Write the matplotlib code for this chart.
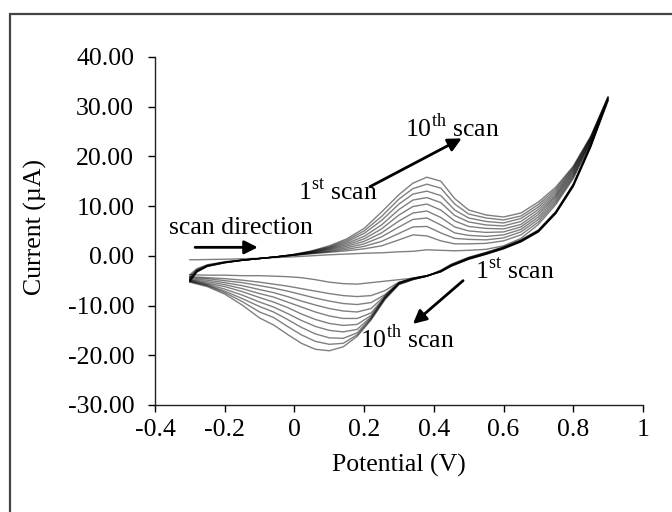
import matplotlib
matplotlib.use("Agg")
import matplotlib.pyplot as plt
from matplotlib.patches import Rectangle
import numpy as np

plt.rcParams['font.family'] = ['Liberation Serif', 'DejaVu Serif']
plt.rcParams['mathtext.fontset'] = 'custom'
plt.rcParams['mathtext.rm'] = 'Liberation Serif'
plt.rcParams['axes.unicode_minus'] = False

# potential grids (V) for the anodic (forward) and cathodic (reverse) sweeps
pot_fwd = [-0.3, -0.28, -0.25, -0.2, -0.15, -0.1, -0.05, 0.0, 0.05, 0.1, 0.15, 0.2, 0.25, 0.3,
           0.34, 0.38, 0.42, 0.46, 0.5, 0.55, 0.6, 0.65, 0.7, 0.75, 0.8, 0.85, 0.9]
pot_rev = [0.9, 0.85, 0.8, 0.75, 0.7, 0.65, 0.6, 0.55, 0.5, 0.45, 0.42, 0.38, 0.34, 0.3,
           0.26, 0.22, 0.18, 0.14, 0.1, 0.06, 0.02, -0.02, -0.06, -0.1, -0.15, -0.2, -0.25, -0.3]

# current (uA), scans 1..10
cur_fwd = [
    [-0.8, -0.8, -0.75, -0.7, -0.6, -0.5, -0.35, -0.2, 0.0, 0.2, 0.35, 0.5, 0.6, 0.8, 0.9, 1.2, 1.1, 1.0, 1.1, 1.3, 2.0, 3.5, 6.3, 10.3, 15.5, 22.5, 31.2],
    [-3.8, -2.6, -1.8, -1.2, -0.85, -0.55, -0.2, 0.1, 0.4, 0.7, 1.0, 1.4, 2.0, 3.2, 4.2, 4.0, 3.0, 2.4, 2.4, 2.5, 3.0, 4.2, 6.8, 10.7, 15.8, 22.8, 31.3],
    [-4.2, -2.8, -1.9, -1.25, -0.85, -0.55, -0.2, 0.12, 0.5, 0.85, 1.3, 1.9, 2.9, 4.5, 5.8, 5.9, 4.6, 3.5, 3.3, 3.2, 3.6, 4.8, 7.3, 11.1, 16.1, 23.0, 31.4],
    [-4.4, -2.9, -1.95, -1.3, -0.9, -0.55, -0.2, 0.15, 0.55, 1.0, 1.6, 2.4, 3.8, 5.8, 7.3, 7.6, 6.2, 4.6, 4.1, 3.9, 4.2, 5.3, 7.8, 11.5, 16.4, 23.1, 31.5],
    [-4.6, -3.0, -2.0, -1.3, -0.9, -0.55, -0.2, 0.17, 0.62, 1.2, 1.9, 2.9, 4.6, 7.0, 8.6, 9.0, 7.7, 5.8, 5.0, 4.7, 4.8, 5.8, 8.3, 11.9, 16.7, 23.3, 31.6],
    [-4.8, -3.1, -2.05, -1.35, -0.9, -0.55, -0.2, 0.2, 0.7, 1.35, 2.2, 3.4, 5.4, 8.2, 9.9, 10.4, 9.2, 7.0, 5.9, 5.5, 5.4, 6.3, 8.8, 12.2, 17.0, 23.4, 31.7],
    [-4.9, -3.1, -2.05, -1.35, -0.9, -0.55, -0.2, 0.22, 0.78, 1.5, 2.5, 3.9, 6.2, 9.3, 11.2, 11.7, 10.7, 8.1, 6.8, 6.2, 6.0, 6.9, 9.3, 12.6, 17.3, 23.6, 31.8],
    [-5.0, -3.2, -2.1, -1.4, -0.9, -0.55, -0.2, 0.25, 0.85, 1.65, 2.8, 4.5, 7.1, 10.4, 12.4, 13.0, 12.1, 9.2, 7.6, 6.9, 6.6, 7.5, 9.8, 13.0, 17.5, 23.7, 31.9],
    [-5.1, -3.2, -2.1, -1.4, -0.9, -0.55, -0.2, 0.28, 0.92, 1.8, 3.1, 5.0, 7.9, 11.4, 13.5, 14.4, 13.6, 10.4, 8.4, 7.6, 7.2, 8.0, 10.3, 13.4, 17.8, 23.9, 31.9],
    [-5.2, -3.3, -2.15, -1.4, -0.9, -0.55, -0.2, 0.3, 1.0, 2.0, 3.4, 5.5, 8.8, 12.3, 14.6, 15.8, 15.0, 11.5, 9.2, 8.2, 7.8, 8.6, 10.8, 13.8, 18.0, 24.0, 32.0],
]
cur_rev = [
    [31.2, 21.8, 13.9, 8.5, 4.8, 2.8, 1.4, 0.3, -0.7, -2.1, -3.2, -4.0, -4.5, -4.8, -5.1, -5.4, -5.7, -5.6, -5.3, -4.8, -4.4, -4.2, -4.1, -4.0, -4.0, -3.9, -3.9, -3.8],
    [31.3, 21.9, 14.0, 8.5, 4.8, 2.8, 1.4, 0.3, -0.7, -2.1, -3.2, -4.0, -4.5, -5.3, -7.0, -8.0, -8.2, -8.0, -7.6, -7.1, -6.6, -6.1, -5.7, -5.3, -4.9, -4.6, -4.4, -4.2],
    [31.4, 22.0, 14.0, 8.6, 4.9, 2.9, 1.5, 0.4, -0.6, -2.0, -3.2, -4.0, -4.5, -5.4, -7.8, -9.4, -9.8, -9.6, -9.1, -8.5, -7.8, -7.1, -6.5, -6.0, -5.4, -5.0, -4.6, -4.4],
    [31.5, 22.0, 14.1, 8.6, 4.9, 2.9, 1.5, 0.4, -0.6, -2.0, -3.2, -4.0, -4.6, -5.4, -8.0, -10.6, -11.3, -11.1, -10.6, -9.9, -9.1, -8.2, -7.4, -6.8, -6.0, -5.4, -4.9, -4.6],
    [31.6, 22.1, 14.1, 8.6, 4.9, 2.9, 1.5, 0.4, -0.6, -2.0, -3.2, -4.1, -4.6, -5.5, -8.2, -11.5, -12.6, -12.6, -12.1, -11.3, -10.3, -9.3, -8.3, -7.6, -6.6, -5.8, -5.2, -4.8],
    [31.7, 22.1, 14.2, 8.7, 5.0, 3.0, 1.6, 0.5, -0.5, -1.9, -3.1, -4.1, -4.6, -5.5, -8.3, -12.0, -13.8, -14.0, -13.6, -12.8, -11.7, -10.4, -9.3, -8.4, -7.2, -6.2, -5.5, -4.9],
    [31.8, 22.2, 14.2, 8.7, 5.0, 3.0, 1.6, 0.5, -0.5, -1.9, -3.1, -4.1, -4.7, -5.6, -8.4, -12.3, -14.8, -15.3, -15.0, -14.2, -13.0, -11.6, -10.3, -9.3, -7.9, -6.7, -5.7, -5.0],
    [31.9, 22.2, 14.3, 8.8, 5.1, 3.1, 1.7, 0.6, -0.4, -1.8, -3.0, -4.1, -4.7, -5.6, -8.5, -12.5, -15.5, -16.6, -16.5, -15.7, -14.4, -12.8, -11.3, -10.2, -8.6, -7.1, -5.9, -5.1],
    [31.9, 22.3, 14.3, 8.8, 5.1, 3.1, 1.7, 0.6, -0.4, -1.8, -3.0, -4.1, -4.8, -5.7, -8.6, -12.7, -15.9, -17.6, -17.8, -17.2, -15.9, -14.2, -12.4, -11.3, -9.2, -7.4, -6.0, -5.2],
    [32.0, 22.3, 14.4, 8.9, 5.2, 3.2, 1.8, 0.7, -0.3, -1.7, -2.9, -4.1, -4.8, -5.8, -8.8, -12.9, -16.2, -18.3, -19.1, -18.8, -17.6, -15.8, -13.9, -12.5, -9.9, -7.7, -6.2, -5.3],
]

xticks = [-0.4, -0.2, 0, 0.2, 0.4, 0.6, 0.8, 1]
xticklabels = ['-0.4', '-0.2', '0', '0.2', '0.4', '0.6', '0.8', '1']
yticks = [-30, -20, -10, 0, 10, 20, 30, 40]

fs = 18.5

fig = plt.figure(figsize=(6.72, 5.12), dpi=100)
ax = fig.add_axes([0.2307, 0.209, 0.726, 0.680])

for f, r in zip(cur_fwd, cur_rev):
    x = np.concatenate([pot_fwd, pot_rev])
    y = np.concatenate([f, r])
    ax.plot(x, y, color='black', alpha=0.5, lw=1.0)

ax.set_xlim(-0.4, 1)
ax.set_ylim(-30, 40)
ax.set_xticks(xticks)
ax.set_xticklabels(xticklabels)
ax.set_yticks(yticks)
ax.set_yticklabels(['%.2f' % v for v in yticks])
ax.tick_params(direction='out', length=5, width=1, labelsize=fs, colors='black')
ax.tick_params(axis='x', pad=5)
ax.tick_params(axis='y', pad=10)
for s in ['top', 'right']:
    ax.spines[s].set_visible(False)
for s in ['left', 'bottom']:
    ax.spines[s].set_linewidth(1)
    ax.spines[s].set_color('#222222')

ax.set_xlabel('Potential (V)', fontsize=fs)
ax.set_ylabel('Current (µA)', fontsize=fs)
ax.xaxis.set_label_coords(0.5, -0.14)
ax.yaxis.set_label_coords(-0.222, 0.51)

# annotations
arrow = dict(arrowstyle='-|>', color='black', lw=2, mutation_scale=20, shrinkA=0, shrinkB=0)
ax.annotate('', xy=(0.48, 23.6), xytext=(0.217, 13.9), arrowprops=arrow)
ax.annotate('', xy=(-0.105, 1.7), xytext=(-0.285, 1.7), arrowprops=arrow)
ax.annotate('', xy=(0.34, -13.7), xytext=(0.484, -5.0), arrowprops=arrow)

ax.text(0.452, 25.8, '10$^{\\mathrm{th}}$ scan', fontsize=fs, ha='center', va='center')
ax.text(0.125, 13.0, '1$^{\\mathrm{st}}$ scan', fontsize=fs, ha='center', va='center')
ax.text(-0.153, 5.6, 'scan direction', fontsize=fs, ha='center', va='center')
ax.text(0.633, -3.0, '1$^{\\mathrm{st}}$ scan', fontsize=fs, ha='center', va='center')
ax.text(0.323, -16.7, '10$^{\\mathrm{th}}$ scan', fontsize=fs, ha='center', va='center')

# outer frame
fig.patches.append(Rectangle((10 / 672, -0.1), 1.2, 1 - 14 / 512 + 0.1, transform=fig.transFigure,
                             fill=False, ec='#444444', lw=1.6))

plt.savefig('out.png', dpi=100)
